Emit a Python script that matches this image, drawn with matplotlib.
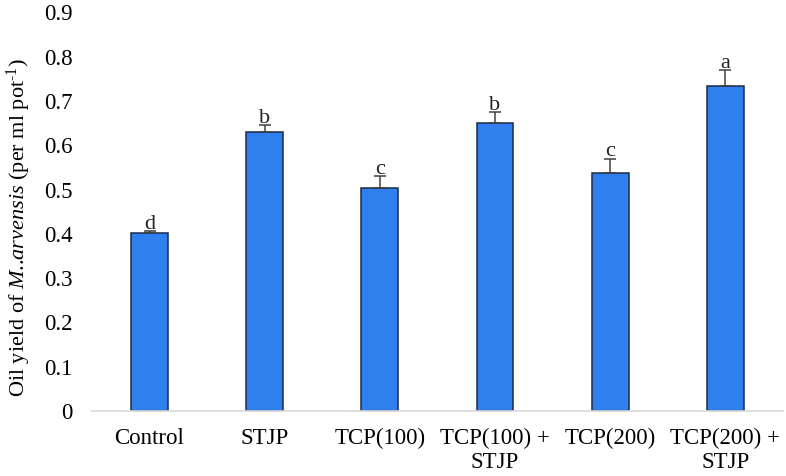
import matplotlib.pyplot as plt
import numpy as np

# data
categories = ["Control", "STJP", "TCP(100)", "TCP(100) +\nSTJP", "TCP(200)", "TCP(200) +\nSTJP"]
oil_yield = [0.402, 0.630, 0.504, 0.650, 0.538, 0.734]
errors = [0.004, 0.015, 0.026, 0.024, 0.031, 0.035]
letters = ["d", "b", "c", "b", "c", "a"]

plt.rcParams['font.family'] = ['Liberation Serif', 'DejaVu Serif']
plt.rcParams['mathtext.fontset'] = 'custom'
plt.rcParams['mathtext.rm'] = 'Liberation Serif'
plt.rcParams['mathtext.it'] = 'Liberation Serif:italic'

fig = plt.figure(figsize=(7.86, 4.76), dpi=100)
ax = fig.add_axes([0.117, 0.1366, 0.879, 0.8374])

x = np.arange(len(categories))
ax.bar(x, oil_yield, width=0.32, color="#2F7FEF", edgecolor="#1C2B45", linewidth=1.1, zorder=2)
ax.errorbar(x, oil_yield, yerr=[np.zeros(len(errors)), errors], fmt="none",
            ecolor="#404040", elinewidth=1.1, capsize=4, capthick=1.1, zorder=3)

for xi, v, e, l in zip(x, oil_yield, errors, letters):
    ax.text(xi, v + e + 0.006, l, ha="center", va="baseline", fontsize=16, color="#222222")

ax.set_xlim(-0.5, len(categories) - 0.5)
ax.set_ylim(0, 0.9)
ax.set_yticks(np.arange(0, 0.91, 0.1))
ax.set_yticklabels(["0"] + ["%.1f" % t for t in np.arange(0.1, 0.91, 0.1)])
ax.set_xticks(x)
ax.set_xticklabels(categories, fontsize=16.5, linespacing=1.2)
ax.tick_params(axis="y", length=0, pad=14, labelsize=16.5)
ax.tick_params(axis="x", length=0, pad=12)

for s in ["top", "right", "left"]:
    ax.spines[s].set_visible(False)
ax.spines["bottom"].set_color("#D9D9D9")
ax.spines["bottom"].set_linewidth(1.2)

ax.set_ylabel(r"Oil yield of $\it{M}$..$\it{arvensis}$ (per ml pot$^{\text{-1}}$)", fontsize=16, labelpad=8)
ax.yaxis.label.set_y(0.46)

fig.savefig("out.png", dpi=100)
